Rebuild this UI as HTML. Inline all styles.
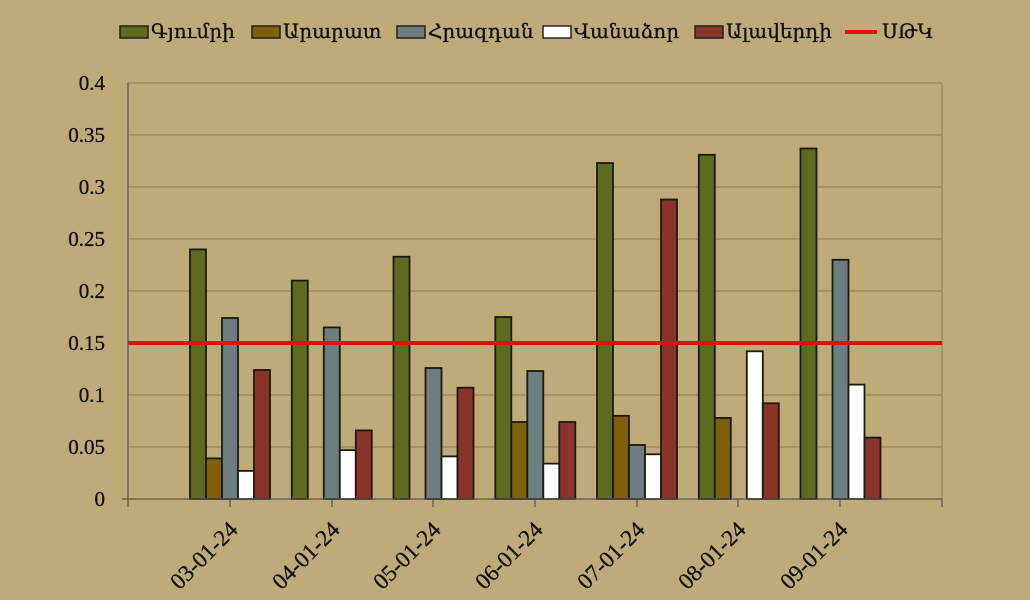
<!DOCTYPE html>
<html><head><meta charset="utf-8"><style>
html,body{margin:0;padding:0;background:#bfab79;}
svg{display:block;font-family:"Liberation Serif","DejaVu Serif",serif;}
</style></head><body>
<svg width="1030" height="600" viewBox="0 0 1030 600" xmlns="http://www.w3.org/2000/svg">
<rect width="1030" height="600" fill="#bfab79"/>
<g font-size="20" fill="#111" stroke="#111" stroke-width="0.3">
<rect x="120" y="26" width="28" height="12" fill="#5e6b1f" stroke="#222" stroke-width="1.5"/><text x="151" y="38">Գյումրի</text>
<rect x="252" y="26" width="28" height="12" fill="#7e5f0a" stroke="#222" stroke-width="1.5"/><text x="283" y="38">Արարատ</text>
<rect x="397" y="26" width="28" height="12" fill="#6e7d80" stroke="#222" stroke-width="1.5"/><text x="428" y="38">Հրազդան</text>
<rect x="543" y="26" width="28" height="12" fill="#ffffff" stroke="#222" stroke-width="1.5"/><text x="574" y="38">Վանաձոր</text>
<rect x="695" y="26" width="28" height="12" fill="#8a3328" stroke="#222" stroke-width="1.5"/><text x="726" y="38">Ալավերդի</text>
<line x1="845" y1="32" x2="877" y2="32" stroke="#e01010" stroke-width="4"/><text x="882" y="38">ՍԹԿ</text>
</g>
<g stroke="#8f7d52" stroke-width="1">
<line x1="128" y1="83" x2="942" y2="83"/>
<line x1="128" y1="135" x2="942" y2="135"/>
<line x1="128" y1="187" x2="942" y2="187"/>
<line x1="128" y1="239" x2="942" y2="239"/>
<line x1="128" y1="291" x2="942" y2="291"/>
<line x1="128" y1="343" x2="942" y2="343"/>
<line x1="128" y1="395" x2="942" y2="395"/>
<line x1="128" y1="447" x2="942" y2="447"/>
<line x1="942" y1="83" x2="942" y2="499"/>
</g>
<g font-size="21" fill="#111" stroke="#111" stroke-width="0.3" text-anchor="end">
<text x="105" y="90">0.4</text><text x="105" y="142">0.35</text><text x="105" y="194">0.3</text><text x="105" y="246">0.25</text><text x="105" y="298">0.2</text><text x="105" y="350">0.15</text><text x="105" y="402">0.1</text><text x="105" y="454">0.05</text><text x="105" y="506">0</text>
</g>
<g stroke="#1a1a10" stroke-width="1.8">
<rect x="190" y="249.4" width="16" height="249.6" fill="#5e6b1f"/>
<rect x="206" y="458.4" width="16" height="40.6" fill="#7e5f0a"/>
<rect x="222" y="318" width="16" height="181" fill="#6e7d80"/>
<rect x="238" y="470.9" width="16" height="28.1" fill="#ffffff"/>
<rect x="254" y="370" width="16" height="129" fill="#8a3328"/>

<rect x="291.8" y="280.6" width="16" height="218.4" fill="#5e6b1f"/>
<rect x="323.8" y="327.4" width="16" height="171.6" fill="#6e7d80"/>
<rect x="339.8" y="450.1" width="16" height="48.9" fill="#ffffff"/>
<rect x="355.8" y="430.4" width="16" height="68.6" fill="#8a3328"/>

<rect x="393.5" y="256.7" width="16" height="242.3" fill="#5e6b1f"/>
<rect x="425.5" y="368" width="16" height="131" fill="#6e7d80"/>
<rect x="441.5" y="456.4" width="16" height="42.6" fill="#ffffff"/>
<rect x="457.5" y="387.7" width="16" height="111.3" fill="#8a3328"/>

<rect x="495.3" y="317" width="16" height="182" fill="#5e6b1f"/>
<rect x="511.3" y="422" width="16" height="77" fill="#7e5f0a"/>
<rect x="527.3" y="371" width="16" height="128" fill="#6e7d80"/>
<rect x="543.3" y="463.6" width="16" height="35.4" fill="#ffffff"/>
<rect x="559.3" y="422" width="16" height="77" fill="#8a3328"/>

<rect x="597" y="163" width="16" height="336" fill="#5e6b1f"/>
<rect x="613" y="415.8" width="16" height="83.2" fill="#7e5f0a"/>
<rect x="629" y="445" width="16" height="54" fill="#6e7d80"/>
<rect x="645" y="454.3" width="16" height="44.7" fill="#ffffff"/>
<rect x="661" y="199.5" width="16" height="299.5" fill="#8a3328"/>

<rect x="698.8" y="154.8" width="16" height="344.2" fill="#5e6b1f"/>
<rect x="714.8" y="417.9" width="16" height="81.1" fill="#7e5f0a"/>
<rect x="746.8" y="351.3" width="16" height="147.7" fill="#ffffff"/>
<rect x="762.8" y="403.3" width="16" height="95.7" fill="#8a3328"/>

<rect x="800.5" y="148.5" width="16" height="350.5" fill="#5e6b1f"/>
<rect x="832.5" y="259.8" width="16" height="239.2" fill="#6e7d80"/>
<rect x="848.5" y="384.6" width="16" height="114.4" fill="#ffffff"/>
<rect x="864.5" y="437.6" width="16" height="61.4" fill="#8a3328"/>
</g>
<line x1="128" y1="343" x2="942" y2="343" stroke="#e01010" stroke-width="4"/>
<g stroke="#555" stroke-width="1.2">
<line x1="128" y1="83" x2="128" y2="499"/>
<line x1="122" y1="499" x2="942" y2="499"/>
<line x1="128" y1="499" x2="128" y2="507"/><line x1="230" y1="499" x2="230" y2="507"/><line x1="332" y1="499" x2="332" y2="507"/><line x1="433" y1="499" x2="433" y2="507"/><line x1="535" y1="499" x2="535" y2="507"/><line x1="637" y1="499" x2="637" y2="507"/><line x1="738" y1="499" x2="738" y2="507"/><line x1="840" y1="499" x2="840" y2="507"/><line x1="942" y1="499" x2="942" y2="507"/>
</g>
<g font-size="23" fill="#111" stroke="#111" stroke-width="0.3" text-anchor="end">
<text transform="translate(239,531) rotate(-45)">03-01-24</text>
<text transform="translate(341,531) rotate(-45)">04-01-24</text>
<text transform="translate(442,531) rotate(-45)">05-01-24</text>
<text transform="translate(544,531) rotate(-45)">06-01-24</text>
<text transform="translate(646,531) rotate(-45)">07-01-24</text>
<text transform="translate(747,531) rotate(-45)">08-01-24</text>
<text transform="translate(849,531) rotate(-45)">09-01-24</text>
</g>
</svg>
</body></html>
